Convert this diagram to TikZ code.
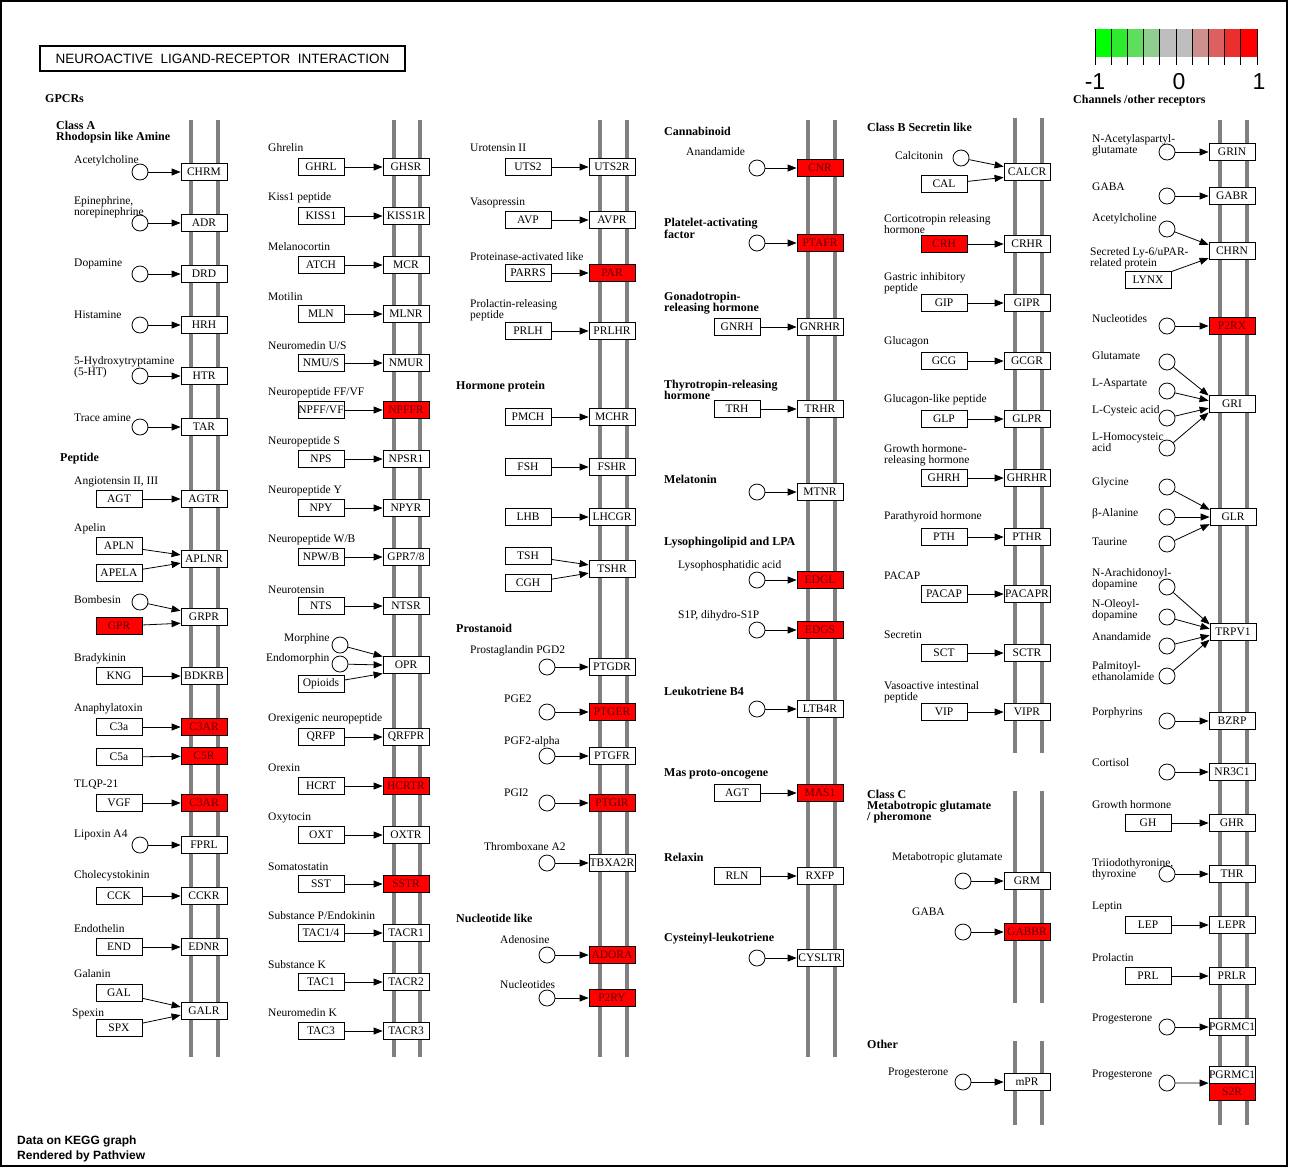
\documentclass[tikz,border=0pt]{standalone}
\usepackage{fontspec}
\setmainfont{Liberation Serif}
\setsansfont{Liberation Sans}
\usepackage{xcolor}
\usepackage{tikz}
\usetikzlibrary{positioning,calc,arrows.meta}

\definecolor{memgray}{RGB}{128,128,128}
\definecolor{hitred}{RGB}{255,0,0}
\definecolor{hittext}{RGB}{95,0,0}
\definecolor{cb0}{RGB}{0,255,0}
\definecolor{cb1}{RGB}{47,235,47}
\definecolor{cb2}{RGB}{95,221,95}
\definecolor{cb3}{RGB}{143,206,143}
\definecolor{cb4}{RGB}{190,190,190}
\definecolor{cb5}{RGB}{190,190,190}
\definecolor{cb6}{RGB}{206,143,143}
\definecolor{cb7}{RGB}{221,95,95}
\definecolor{cb8}{RGB}{235,47,47}
\definecolor{cb9}{RGB}{255,0,0}

\begin{document}
\begin{tikzpicture}[x=1pt,y=-1pt,
    gene/.style={draw,fill=white,line width=0.8pt,minimum width=46pt,minimum height=17pt,inner sep=0pt,font=\fontsize{11.5}{11}\selectfont},
    hit/.style={fill=hitred,text=hittext},
    plain/.style={},
    cpd/.style={circle,draw,fill=white,line width=0.8pt,minimum size=16pt,inner sep=0pt},
    lab/.style={anchor=west,align=left,inner sep=0pt,yshift=-1pt,font=\fontsize{11.5}{11}\selectfont},
    head/.style={lab,font=\fontsize{12}{11}\selectfont\bfseries},
    keylab/.style={inner sep=0pt,font=\fontsize{23}{23}\sffamily},
    mem/.style={memgray,line width=4.5pt},
    arr/.style={-{Triangle[length=9pt,width=7pt]},line width=0.8pt}]
    \useasboundingbox (0,0) rectangle (1289,1168);
    \draw[line width=1.5pt] (1,1) rectangle (1287,1166);
    % Title and footer
    \node[draw,line width=1.6pt,minimum width=365pt,minimum height=25pt,inner sep=0pt,font=\fontsize{13.5}{14}\sffamily] (title) at (222.5,58.5) {NEUROACTIVE\ \ LIGAND-RECEPTOR\ \ INTERACTION};
    \node[anchor=west,align=left,inner sep=0pt,font=\fontsize{12}{15}\sffamily\bfseries] (footer) at (17,1148.5) {Data on KEGG graph\\Rendered by Pathview};
    % Colour key
    \foreach \i in {0,...,9}
        \fill[fill=cb\i] ({1095+16.2*\i},29) rectangle ++(16.2,28);
    \foreach \i in {0,...,10}
        \draw[line width=0.8pt] ({1095+16.2*\i},29) -- ++(0,36);
    \node[keylab] (kmin) at (1095,82) {-1};
    \node[keylab] (kmid) at (1179,82) {0};
    \node[keylab] (kmax) at (1259,82) {1};
    % Membranes
    \foreach \mx in {191,218,394,420,600,627,808,835}
        \draw[mem] (\mx,120) -- (\mx,1057);
    \foreach \mx in {1220,1247}
        \draw[mem] (\mx,120) -- (\mx,1125);
    \foreach \mx in {1015,1042} {
        \draw[mem] (\mx,118) -- (\mx,753);
        \draw[mem] (\mx,791) -- (\mx,1003);
        \draw[mem] (\mx,1041) -- (\mx,1125);
    }
    % Column 1: Class A amine and peptide
    \node[head] (gpcr) at (45,98) {GPCRs};
    \node[head] (classA) at (56,131.5) {Class A\\Rhodopsin like Amine};
    \node[head] (peptide) at (60,458) {Peptide};
    \foreach \ly/\lab/\y/\rec/\rs [count=\i] in {
        160/Acetylcholine/172/CHRM/plain,
        206.5/{Epinephrine,\\norepinephrine}/223/ADR/plain,
        263/Dopamine/274/DRD/plain,
        314/Histamine/325/HRH/plain,
        366.5/{5-Hydroxytryptamine\\(5-HT)}/376/HTR/plain,
        417/Trace amine/427/TAR/plain,
        834/Lipoxin A4/845/FPRL/plain} {
        \node[lab] (a-l\i) at (74,\ly) {\lab};
        \node[cpd] (a-c\i) at (140,\y) {};
        \node[gene,\rs] (a-r\i) at (204,\y) {\rec};
        \draw[arr] (a-c\i) -- (a-r\i);
    }
    \foreach \ly/\lab/\y/\lig/\ls/\rec/\rs [count=\i] in {
        481/{Angiotensin II, III}/499/AGT/plain/AGTR/plain,
        658/Bradykinin/676/KNG/plain/BDKRB/plain,
        708/Anaphylatoxin/727/C3a/plain/C3AR/hit,
        784/TLQP-21/803/VGF/plain/C3AR/hit,
        875/Cholecystokinin/896/CCK/plain/CCKR/plain,
        928/Endothelin/947/END/plain/EDNR/plain} {
        \node[lab] (a-m\i) at (74,\ly) {\lab};
        \node[gene,\ls] (a-g\i) at (119,\y) {\lig};
        \node[gene,\rs] (a-s\i) at (204,\y) {\rec};
        \draw[arr] (a-g\i) -- (a-s\i);
    }
    \node[gene] (c5a) at (119,757) {C5a};
    \node[gene,hit] (c5r) at (204,756) {C5R};
    \draw[arr] (c5a) -- (c5r);
    \node[lab] (apelin) at (74,528) {Apelin};
    \node[gene] (apln) at (119,546) {APLN};
    \node[gene] (apela) at (119,573) {APELA};
    \node[gene] (aplnr) at (204,559) {APLNR};
    \draw[arr] (apln) -- (aplnr.170);
    \draw[arr] (apela) -- (aplnr.190);
    \node[lab] (bombesin) at (74,599) {Bombesin};
    \node[cpd] (bomb) at (140,602) {};
    \node[gene,hit] (gpr) at (119,626) {GPR};
    \node[gene] (grpr) at (204,617) {GRPR};
    \draw[arr] (bomb) -- (grpr.165);
    \draw[arr] (gpr) -- (grpr.195);
    \node[lab] (galanin) at (74,973) {Galanin};
    \node[gene] (gal) at (119,993) {GAL};
    \node[lab] (spexin) at (72,1013) {Spexin};
    \node[gene] (spx) at (119,1028) {SPX};
    \node[gene] (galr) at (204,1011) {GALR};
    \draw[arr] (gal) -- (galr.170);
    \draw[arr] (spx) -- (galr.190);
    % Column 2: peptides
    \foreach \ly/\lab/\y/\lig/\ls/\rec/\rs [count=\i] in {
        147/Ghrelin/167/GHRL/plain/GHSR/plain,
        197/Kiss1 peptide/216/KISS1/plain/KISS1R/plain,
        246/Melanocortin/265/ATCH/plain/MCR/plain,
        296/Motilin/314/MLN/plain/MLNR/plain,
        345/{Neuromedin U/S}/363/{NMU/S}/plain/NMUR/plain,
        392/{Neuropeptide FF/VF}/410/{NPFF/VF}/plain/NPFFR/hit,
        441/Neuropeptide S/459/NPS/plain/NPSR1/plain,
        490/Neuropeptide Y/508/NPY/plain/NPYR/plain,
        539/{Neuropeptide W/B}/557/{NPW/B}/plain/{GPR7/8}/plain,
        589/Neurotensin/606/NTS/plain/NTSR/plain,
        718/Orexigenic neuropeptide/737/QRFP/plain/QRFPR/plain,
        767/Orexin/786/HCRT/plain/HCRTR/hit,
        817/Oxytocin/835/OXT/plain/OXTR/plain,
        866/Somatostatin/884/SST/plain/SSTR/hit,
        915/{Substance P/Endokinin}/933/{TAC1/4}/plain/TACR1/plain,
        964/Substance K/982/TAC1/plain/TACR2/plain,
        1012/Neuromedin K/1031/TAC3/plain/TACR3/plain} {
        \node[lab] (b-m\i) at (268,\ly) {\lab};
        \node[gene,\ls] (b-g\i) at (321,\y) {\lig};
        \node[gene,\rs] (b-s\i) at (406,\y) {\rec};
        \draw[arr] (b-g\i) -- (b-s\i);
    }
    \node[lab] (morphine) at (284,638) {Morphine};
    \node[cpd] (morph) at (340,645) {};
    \node[lab] (endomorphin) at (266,658) {Endomorphin};
    \node[cpd] (endo) at (340,664) {};
    \node[gene] (opioids) at (321,684) {Opioids};
    \node[gene] (opr) at (406,665) {OPR};
    \draw[arr] (morph) -- (opr.160);
    \draw[arr] (endo) -- (opr.west);
    \draw[arr] (opioids) -- (opr.200);
    % Column 3: peptides, hormone proteins, prostanoids, nucleotides
    \node[head] (hormone) at (456,386) {Hormone protein};
    \node[head] (prostanoid) at (456,627) {Prostanoid};
    \node[head] (nucleotide) at (456,917) {Nucleotide like};
    \foreach \ly/\lab/\y/\lig/\ls/\rec/\rs [count=\i] in {
        147/Urotensin II/167/UTS2/plain/UTS2R/plain,
        202/Vasopressin/220/AVP/plain/AVPR/plain,
        256/Proteinase-activated like/273/PARRS/plain/PAR/hit,
        309.5/{Prolactin-releasing\\peptide}/331/PRLH/plain/PRLHR/plain} {
        \node[lab] (c-m\i) at (470,\ly) {\lab};
        \node[gene,\ls] (c-g\i) at (528,\y) {\lig};
        \node[gene,\rs] (c-s\i) at (612,\y) {\rec};
        \draw[arr] (c-g\i) -- (c-s\i);
    }
    \foreach \y/\lig/\rec [count=\i] in {417/PMCH/MCHR, 467/FSH/FSHR, 517/LHB/LHCGR} {
        \node[gene] (c-h\i) at (528,\y) {\lig};
        \node[gene] (c-k\i) at (612,\y) {\rec};
        \draw[arr] (c-h\i) -- (c-k\i);
    }
    \node[gene] (tsh) at (528,556) {TSH};
    \node[gene] (cgh) at (528,583) {CGH};
    \node[gene] (tshr) at (612,569) {TSHR};
    \draw[arr] (tsh) -- (tshr.170);
    \draw[arr] (cgh) -- (tshr.190);
    \foreach \lx/\ly/\lab/\y/\rec/\rs [count=\i] in {
        470/650/Prostaglandin PGD2/667/PTGDR/plain,
        504/698/PGE2/712/PTGER/hit,
        504/741/PGF2-alpha/756/PTGFR/plain,
        504/792/PGI2/803/PTGIR/hit,
        484/846/Thromboxane A2/863/TBXA2R/plain,
        500/939/Adenosine/955/ADORA/hit,
        500/984/Nucleotides/998/P2RY/hit} {
        \node[lab] (c-l\i) at (\lx,\ly) {\lab};
        \node[cpd] (c-c\i) at (547,\y) {};
        \node[gene,\rs] (c-r\i) at (612,\y) {\rec};
        \draw[arr] (c-c\i) -- (c-r\i);
    }
    % Column 4: lipids and peptides
    \foreach \hy/\htxt [count=\i] in {
        130/Cannabinoid,
        227.5/{Platelet-activating\\factor},
        302.5/{Gonadotropin-\\releasing hormone},
        388.5/{Thyrotropin-releasing\\hormone},
        478/Melatonin,
        542/Lysophingolipid and LPA,
        690/Leukotriene B4,
        773/Mas proto-oncogene,
        856/Relaxin,
        938/Cysteinyl-leukotriene}
        \node[head] (d-h\i) at (664,\hy) {\htxt};
    \node[lab] (anandamide) at (686,151) {Anandamide};
    \node[lab] (lpa) at (678,565) {Lysophosphatidic acid};
    \node[lab] (s1p) at (678,615) {S1P, dihydro-S1P};
    \foreach \y/\rec/\rs [count=\i] in {
        168/CNR/hit, 243/PTAFR/hit, 492/MTNR/plain, 580/EDGL/hit,
        630/EDGS/hit, 709/LTB4R/plain, 958/CYSLTR/plain} {
        \node[cpd] (d-c\i) at (757,\y) {};
        \node[gene,\rs] (d-r\i) at (820,\y) {\rec};
        \draw[arr] (d-c\i) -- (d-r\i);
    }
    \foreach \y/\lig/\rec/\rs [count=\i] in {
        327/GNRH/GNRHR/plain, 409/TRH/TRHR/plain, 793/AGT/MAS1/hit, 876/RLN/RXFP/plain} {
        \node[gene] (d-g\i) at (737,\y) {\lig};
        \node[gene,\rs] (d-s\i) at (820,\y) {\rec};
        \draw[arr] (d-g\i) -- (d-s\i);
    }
    % Column 5: Class B, Class C, other
    \node[head] (classB) at (867,126) {Class B Secretin like};
    \node[head] (classC) at (867,806) {Class C\\Metabotropic glutamate\\/ pheromone};
    \node[head] (other) at (867,1043) {Other};
    \node[lab] (calcitonin) at (895,155) {Calcitonin};
    \node[cpd] (calc) at (961,158) {};
    \node[gene] (cal) at (944,184) {CAL};
    \node[gene] (calcr) at (1027,172) {CALCR};
    \draw[arr] (calc) -- (calcr.167);
    \draw[arr] (cal) -- (calcr.193);
    \foreach \ly/\lab/\y/\lig/\ls/\rec/\rs [count=\i] in {
        223.5/{Corticotropin releasing\\hormone}/244/CRH/hit/CRHR/plain,
        282.5/{Gastric inhibitory\\peptide}/303/GIP/plain/GIPR/plain,
        341/Glucagon/361/GCG/plain/GCGR/plain,
        399/Glucagon-like peptide/419/GLP/plain/GLPR/plain,
        454.5/{Growth hormone-\\releasing hormone}/478/GHRH/plain/GHRHR/plain,
        516/Parathyroid hormone/537/PTH/plain/PTHR/plain,
        575/PACAP/594/PACAP/plain/PACAPR/plain,
        634/Secretin/653/SCT/plain/SCTR/plain,
        691.5/{Vasoactive intestinal\\peptide}/712/VIP/plain/VIPR/plain} {
        \node[lab] (e-m\i) at (884,\ly) {\lab};
        \node[gene,\ls] (e-g\i) at (944,\y) {\lig};
        \node[gene,\rs] (e-s\i) at (1027,\y) {\rec};
        \draw[arr] (e-g\i) -- (e-s\i);
    }
    \foreach \lx/\ly/\lab/\y/\rec/\rs [count=\i] in {
        892/857/Metabotropic glutamate/881/GRM/plain,
        912/911/GABA/932/GABBR/hit,
        888/1072/Progesterone/1082/mPR/plain} {
        \node[lab] (e-l\i) at (\lx,\ly) {\lab};
        \node[cpd] (e-c\i) at (963,\y) {};
        \node[gene,\rs] (e-r\i) at (1027,\y) {\rec};
        \draw[arr] (e-c\i) -- (e-r\i);
    }
    % Column 6: channels and other receptors
    \node[head] (channels) at (1073,100) {Channels /other receptors};
    \foreach \ly/\lab/\y/\rec/\rs [count=\i] in {
        144.5/{N-Acetylaspartyl-\\glutamate}/152/GRIN/plain,
        186/GABA/196/GABR/plain,
        318/Nucleotides/326/P2RX/hit,
        712/Porphyrins/721/BZRP/plain,
        762/Cortisol/772/NR3C1/plain,
        868.5/{Triiodothyronine,\\thyroxine}/874/THR/plain,
        1018/Progesterone/1027/PGRMC1/plain} {
        \node[lab] (f-l\i) at (1092,\ly) {\lab};
        \node[cpd] (f-c\i) at (1167,\y) {};
        \node[gene,\rs] (f-r\i) at (1232,\y) {\rec};
        \draw[arr] (f-c\i) -- (f-r\i);
    }
    \foreach \ly/\lab/\y/\lig/\rec [count=\i] in {
        804/Growth hormone/823/GH/GHR,
        906/Leptin/925/LEP/LEPR,
        957/Prolactin/976/PRL/PRLR} {
        \node[lab] (f-m\i) at (1092,\ly) {\lab};
        \node[gene] (f-g\i) at (1148,\y) {\lig};
        \node[gene] (f-s\i) at (1232,\y) {\rec};
        \draw[arr] (f-g\i) -- (f-s\i);
    }
    \node[lab] (ach) at (1092,218) {Acetylcholine};
    \node[cpd] (achc) at (1167,229) {};
    \node[lab] (lynxlab) at (1090,257.5) {Secreted Ly-6/uPAR-\\related protein};
    \node[gene] (lynx) at (1148,280) {LYNX};
    \node[gene] (chrn) at (1232,251) {CHRN};
    \draw[arr] (achc) -- (chrn.165);
    \draw[arr] (lynx) -- (chrn.197);
    \node[gene] (gri) at (1232,404) {GRI};
    \foreach \ly/\lab/\y/\a [count=\i] in {
        355/Glutamate/362/160, 383/L-Aspartate/391/172,
        410/L-Cysteic acid/418/190, 441.5/{L-Homocysteic\\acid}/448/200} {
        \node[lab] (g-l\i) at (1092,\ly) {\lab};
        \node[cpd] (g-c\i) at (1167,\y) {};
        \draw[arr] (g-c\i) -- (gri.\a);
    }
    \node[gene] (glr) at (1233,517) {GLR};
    \foreach \ly/\lab/\y/\a [count=\i] in {
        482/Glycine/487/163, 513/β-Alanine/517/180, 541/Taurine/544/197} {
        \node[lab] (h-l\i) at (1092,\ly) {\lab};
        \node[cpd] (h-c\i) at (1167,\y) {};
        \draw[arr] (h-c\i) -- (glr.\a);
    }
    \node[gene] (trpv) at (1233,632) {TRPV1};
    \foreach \ly/\lab/\y/\a [count=\i] in {
        578.5/{N-Arachidonoyl-\\dopamine}/587/162, 609/{N-Oleoyl-\\dopamine}/617/172,
        636/Anandamide/646/188, 670.5/{Palmitoyl-\\ethanolamide}/676/198} {
        \node[lab] (t-l\i) at (1092,\ly) {\lab};
        \node[cpd] (t-c\i) at (1167,\y) {};
        \draw[arr] (t-c\i) -- (trpv.\a);
    }
    \node[lab] (prog) at (1092,1074) {Progesterone};
    \node[cpd] (progc) at (1167,1083) {};
    \node[gene] (pgrmc) at (1232,1075) {PGRMC1};
    \node[gene,hit] (s2r) at (1232,1092) {S2R};
    \draw[arr] (progc) -- (s2r.north west);
\end{tikzpicture}
\end{document}
